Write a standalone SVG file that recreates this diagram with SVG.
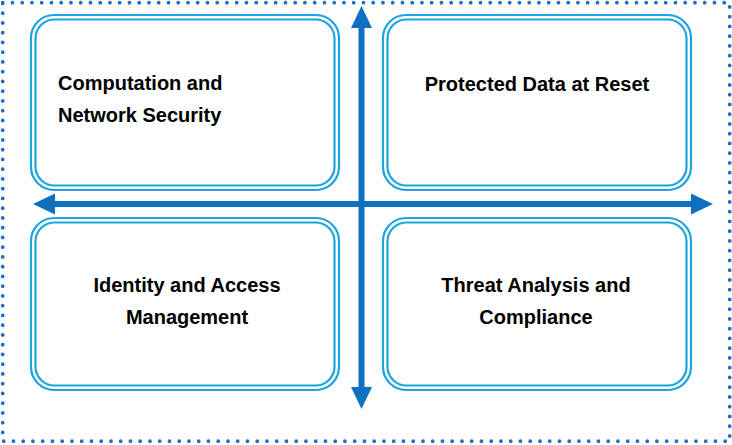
<svg xmlns="http://www.w3.org/2000/svg" width="732" height="445" viewBox="0 0 732 445">
<defs>
<style>
.frame{fill:none;stroke:#1F6EC0;stroke-width:3.8;stroke-linecap:round;stroke-dasharray:0 9.75}
.outer{fill:#fff;stroke:#1DA3DF;stroke-width:2.2}
.inner{fill:none;stroke:#1DA3DF;stroke-width:2.2}
.lbl{font-family:"Liberation Sans",Arial,sans-serif;font-weight:bold;font-size:20px;fill:#000}
.axis{stroke:#0F6FC1;stroke-width:6;fill:none}
</style>
<marker id="ah" viewBox="0 0 22 21" refX="0" refY="10.5" markerWidth="22" markerHeight="21" markerUnits="userSpaceOnUse" orient="auto-start-reverse">
<path d="M0,0 L22,10.5 L0,21 z" fill="#0F6FC1"/>
</marker>
</defs>
<rect width="732" height="445" fill="#fff"/>
<rect class="frame" x="2.7" y="2.7" width="727" height="438.5"/>
<g id="node-computation">
<rect class="outer" x="31" y="15" width="308" height="175" rx="23"/>
<rect class="inner" x="35.5" y="19.5" width="299" height="166" rx="19"/>
<text class="lbl" x="58" y="90">Computation and</text>
<text class="lbl" x="58" y="122">Network Security</text>
</g>
<g id="node-protected">
<rect class="outer" x="383" y="15" width="308" height="175" rx="23"/>
<rect class="inner" x="387.5" y="19.5" width="299" height="166" rx="19"/>
<text class="lbl" x="537" y="91" text-anchor="middle">Protected Data at Reset</text>
</g>
<g id="node-identity">
<rect class="outer" x="31" y="218" width="308" height="172" rx="23"/>
<rect class="inner" x="35.5" y="222.5" width="299" height="163" rx="19"/>
<text class="lbl" x="187" y="292" text-anchor="middle">Identity and Access</text>
<text class="lbl" x="187" y="324" text-anchor="middle">Management</text>
</g>
<g id="node-threat">
<rect class="outer" x="383" y="218" width="308" height="172" rx="23"/>
<rect class="inner" x="387.5" y="222.5" width="299" height="163" rx="19"/>
<text class="lbl" x="536" y="292" text-anchor="middle">Threat Analysis and</text>
<text class="lbl" x="536" y="324" text-anchor="middle">Compliance</text>
</g>
<g id="connectors">
<line class="axis" x1="361.5" y1="28" x2="361.5" y2="387" marker-start="url(#ah)" marker-end="url(#ah)"/>
<line class="axis" x1="55" y1="204" x2="691" y2="204" marker-start="url(#ah)" marker-end="url(#ah)"/>
</g>
</svg>
